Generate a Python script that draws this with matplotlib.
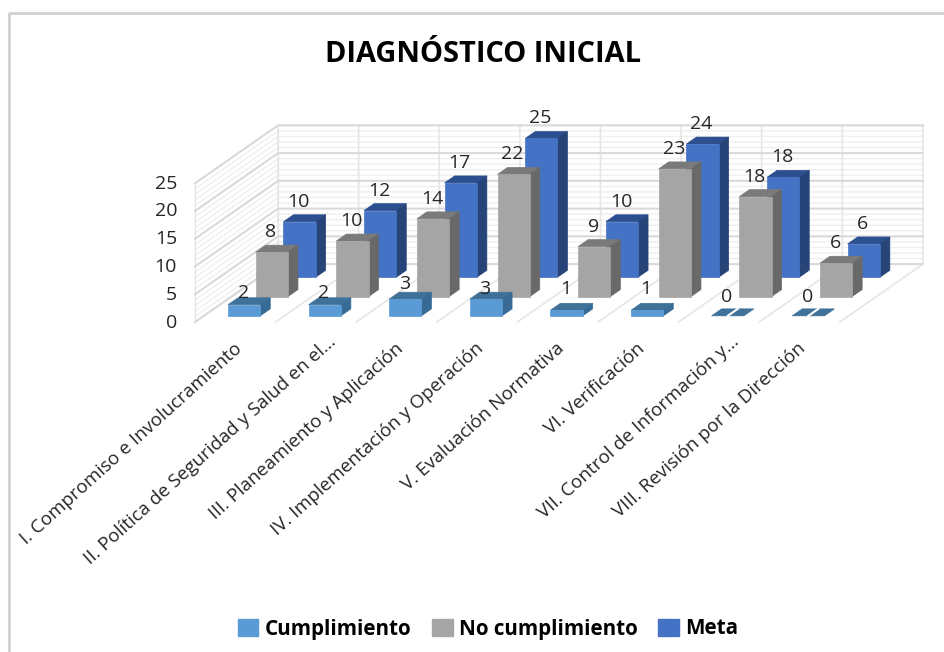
import matplotlib
matplotlib.use("Agg")
import matplotlib.pyplot as plt
from matplotlib.patches import Patch, Polygon

plt.rcParams['font.family'] = ['Open Sans', 'DejaVu Sans']

# Data
categorias = [
    "I. Compromiso e Involucramiento",
    "II. Política de Seguridad y Salud en el...",
    "III. Planeamiento y Aplicación",
    "IV. Implementación y Operación",
    "V. Evaluación Normativa",
    "VI. Verificación",
    "VII. Control de Información y...",
    "VIII. Revisión por la Dirección",
]
cumplimiento = [2, 2, 3, 3, 1, 1, 0, 0]
no_cumplimiento = [8, 10, 14, 22, 9, 23, 18, 6]
meta = [10, 12, 17, 25, 10, 24, 18, 6]
y_ticks = [0, 5, 10, 15, 20, 25]
nombres = ["Cumplimiento", "No cumplimiento", "Meta"]

# front, top, side colours of each series
colores = [("#5b9bd5", "#3f7199", "#376b95"),
           ("#a5a5a5", "#7a7a7a", "#696969"),
           ("#4472c4", "#2c4f8f", "#264478")]

# how far the labels of the first series sit above their bars (px)
lift_cumplimiento = [12, 12, 15, 10, 21, 21, 19, 19]

# oblique projection of the 3D chart into image pixels
X0, Y0 = 195, 322
CAT_W = 80.6
DX, DY = 27.7, 19.3
UNIT = 5.55
BAR_X = (0.3, 0.7)
BAR_D = (0.32, 0.68)


def proj(x, d, z):
    return (X0 + CAT_W * x + DX * d, Y0 - DY * d - UNIT * z)


fig = plt.figure(figsize=(9.45, 6.52), dpi=100)
ax = fig.add_axes([0, 0, 1, 1])
ax.set_xlim(0, 945)
ax.set_ylim(652, 0)
ax.axis("off")

n = len(categorias)

# walls
for v in range(0, 26):
    major = v % 5 == 0
    col = "#d9d9d9" if major else "#efefef"
    lw = 1.5 if major else 1.0
    a, b, c = proj(0, 0, v), proj(0, 3, v), proj(n, 3, v)
    ax.plot([a[0], b[0], c[0]], [a[1], b[1], c[1]], color=col, lw=lw, zorder=1 if not major else 1.5)
for i in range(n + 1):
    a, b, c = proj(i, 0, 0), proj(i, 3, 0), proj(i, 3, 25)
    ax.plot([a[0], b[0], c[0]], [a[1], b[1], c[1]], color="#e6e6e6", lw=1.2, zorder=1.2)
for d in (0, 3):
    a, b = proj(0, d, 0), proj(0, d, 25)
    ax.plot([a[0], b[0]], [a[1], b[1]], color="#e6e6e6", lw=1.0, zorder=1.2)

# bars, back series first
series = [cumplimiento, no_cumplimiento, meta]
for s in [2, 1, 0]:
    front, top, side = colores[s]
    for i, v in enumerate(series[s]):
        x0, x1 = i + BAR_X[0], i + BAR_X[1]
        d0, d1 = s + BAR_D[0], s + BAR_D[1]
        z = 5 - s
        ax.add_patch(Polygon([proj(x0, d0, v), proj(x1, d0, v), proj(x1, d1, v), proj(x0, d1, v)],
                             fc=top, ec=top, lw=0.5, zorder=z))
        if v == 0:
            # empty bar: only a flat lid, split down the middle
            m = i + 0.5
            a, b = proj(m, d0, 0), proj(m, d1, 0)
            ax.plot([a[0], b[0]], [a[1], b[1]], color="white", lw=1.5, zorder=z + 0.1)
            continue
        ax.add_patch(Polygon([proj(x1, d0, 0), proj(x1, d1, 0), proj(x1, d1, v), proj(x1, d0, v)],
                             fc=side, ec=side, lw=0.5, zorder=z))
        ax.add_patch(Polygon([proj(x0, d0, 0), proj(x1, d0, 0), proj(x1, d0, v), proj(x0, d0, v)],
                             fc=front, ec=front, lw=0.5, zorder=z + 0.1))

# data labels
for s in range(3):
    for i, v in enumerate(series[s]):
        px, py = proj(i + 0.5, s + BAR_D[0], v)
        lift = lift_cumplimiento[i] if s == 0 else 20
        ax.text(px - 1, py - lift, str(v), ha="center", va="center", fontsize=14,
                color="#262626", zorder=10)

# value axis
for v in y_ticks:
    px, py = proj(0, 0, v)
    ax.text(px - 18, py + 0.5, str(v), ha="right", va="center", fontsize=14, color="#262626")

# category labels
for i, lab in enumerate(categorias):
    px, py = proj(i + 0.5, 0, 0)
    extra = 14 if lab.endswith("...") else 0
    ax.text(px + 4 + extra, py + 24 - extra * 0.5, lab, rotation=42, rotation_mode="anchor",
            ha="right", va="center", fontsize=13.5, color="#262626")

ax.text(483, 54, "DIAGNÓSTICO INICIAL", ha="center", va="center", fontsize=20.9,
        fontweight="bold", color="black")

handles = [Patch(fc=c[0], ec=c[0], label=nm) for c, nm in zip(colores, nombres)]
ax.legend(handles=handles, loc="center", bbox_to_anchor=(488, 629), bbox_transform=ax.transData,
          ncol=3, frameon=False, handlelength=1.0, handleheight=0.85, handletextpad=0.3,
          columnspacing=1.0, prop={"weight": "bold", "size": 14.9})

# frame of the pasted chart: only top and left show
ax.plot([8.5, 8.5, 945], [652, 12.5, 12.5], color="#d2d2d2", lw=2, zorder=0.5)

fig.savefig("out.png", dpi=100)
